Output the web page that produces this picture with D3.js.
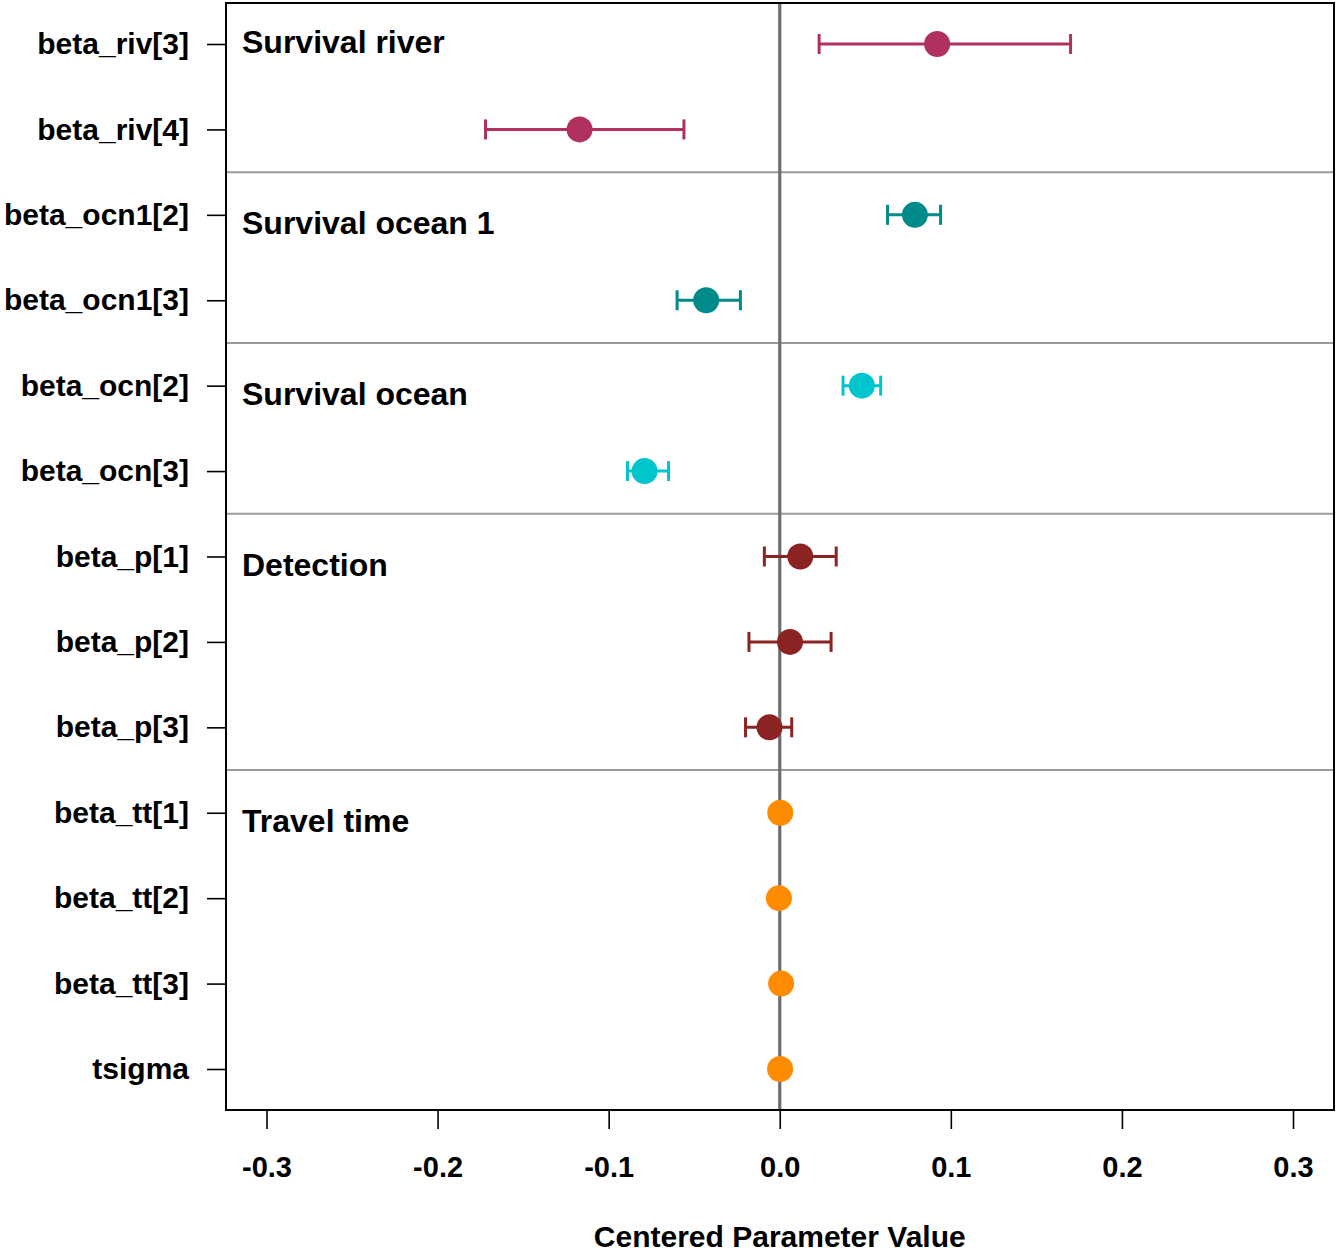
<!DOCTYPE html>
<html>
<head>
    <meta charset="utf-8">
    <title>Centered Parameter Values</title>
    <script src="https://d3js.org/d3.v7.min.js"></script>
    <style>
        body {
            margin: 0;
            background: #fff;
        }

        text {
            font-family: "Liberation Sans", Arial, Helvetica, sans-serif;
            font-weight: bold;
            fill: #000;
        }

        .axis path {
            display: none;
        }

        .axis line {
            stroke: #000;
            stroke-width: 1.6px;
        }
    </style>
</head>
<body>
    <div id="chart"></div>

    <script>
        // parameter names, top to bottom
        const params = ["beta_riv[3]", "beta_riv[4]", "beta_ocn1[2]", "beta_ocn1[3]",
            "beta_ocn[2]", "beta_ocn[3]", "beta_p[1]", "beta_p[2]", "beta_p[3]",
            "beta_tt[1]", "beta_tt[2]", "beta_tt[3]", "tsigma"];
        const estimate = [0.092, -0.117, 0.079, -0.043, 0.048, -0.079, 0.012, 0.006, -0.006,
            0.0003, -0.0005, 0.0008, 0.0002];
        const lower = [0.023, -0.172, 0.063, -0.060, 0.037, -0.089, -0.009, -0.018, -0.020,
            null, null, null, null];
        const upper = [0.170, -0.056, 0.094, -0.023, 0.059, -0.065, 0.033, 0.030, 0.007,
            null, null, null, null];
        const group = [0, 0, 1, 1, 2, 2, 3, 3, 3, 4, 4, 4, 4];

        const groupNames = ["Survival river", "Survival ocean 1", "Survival ocean", "Detection", "Travel time"];
        const groupColors = ["#b03060", "#008b8b", "#00c5cd", "#8b2323", "#ff8c00"];
        const groupLabelRow = [0.97, 3.09, 5.09, 7.09, 10.09];
        const dividers = [2.5, 4.5, 6.5, 9.5];

        const xTicks = [-0.3, -0.2, -0.1, 0.0, 0.1, 0.2, 0.3];

        const data = params.map((p, i) => ({
            name: p,
            row: i + 1,
            est: estimate[i],
            lo: lower[i],
            hi: upper[i],
            group: group[i]
        }));

        const margin = { top: 3, right: 2, bottom: 142, left: 226 },
            width = 1336 - margin.left - margin.right,
            height = 1252 - margin.top - margin.bottom;

        const x = d3.scaleLinear().domain([-0.3, 0.3]).range([40.5, 1067]);
        const y = d3.scaleLinear().domain([0.52, 13.48]).range([0, height]);

        const svg = d3.select("#chart").append("svg")
            .attr("width", width + margin.left + margin.right)
            .attr("height", height + margin.top + margin.bottom)
            .append("g")
            .attr("transform", `translate(${margin.left},${margin.top})`);

        // group dividers
        svg.selectAll(".divider")
            .data(dividers)
            .enter().append("line")
            .attr("class", "divider")
            .attr("x1", 0)
            .attr("x2", width)
            .attr("y1", d => y(d))
            .attr("y2", d => y(d))
            .style("stroke", "#9a9a9a")
            .style("stroke-width", 2);

        // zero line
        svg.append("line")
            .attr("x1", x(0))
            .attr("x2", x(0))
            .attr("y1", 0)
            .attr("y2", height)
            .style("stroke", "#6e6e6e")
            .style("stroke-width", 3.2);

        // group labels
        svg.selectAll(".glabel")
            .data(groupNames)
            .enter().append("text")
            .attr("class", "glabel")
            .attr("x", 16)
            .attr("y", (d, i) => y(groupLabelRow[i]))
            .attr("dy", "0.36em")
            .style("font-size", "32px")
            .text(d => d);

        // error bars
        const withCi = data.filter(d => d.lo !== null);
        const capH = 10;

        svg.selectAll(".ci")
            .data(withCi)
            .enter().append("line")
            .attr("x1", d => x(d.lo))
            .attr("x2", d => x(d.hi))
            .attr("y1", d => y(d.row))
            .attr("y2", d => y(d.row))
            .style("stroke", d => groupColors[d.group])
            .style("stroke-width", 3);

        ["lo", "hi"].forEach(function(k) {
            svg.selectAll(".cap-" + k)
                .data(withCi)
                .enter().append("line")
                .attr("x1", d => x(d[k]))
                .attr("x2", d => x(d[k]))
                .attr("y1", d => y(d.row) - capH)
                .attr("y2", d => y(d.row) + capH)
                .style("stroke", d => groupColors[d.group])
                .style("stroke-width", 3);
        });

        // points
        svg.selectAll(".pt")
            .data(data)
            .enter().append("circle")
            .attr("cx", d => x(d.est))
            .attr("cy", d => y(d.row))
            .attr("r", 13)
            .style("fill", d => groupColors[d.group]);

        // box
        svg.append("rect")
            .attr("width", width)
            .attr("height", height)
            .style("fill", "none")
            .style("stroke", "#000")
            .style("stroke-width", 2);

        // axes
        const xAxis = svg.append("g")
            .attr("class", "axis")
            .attr("transform", `translate(0,${height})`)
            .call(d3.axisBottom(x).tickValues(xTicks)
                .tickFormat(d => d.toFixed(1)).tickSize(19).tickPadding(27));
        xAxis.selectAll("text").style("font-size", "29px");

        const yAxis = svg.append("g")
            .attr("class", "axis")
            .call(d3.axisLeft(y).tickValues(data.map(d => d.row))
                .tickFormat((d, i) => params[i]).tickSize(19).tickPadding(18));
        yAxis.selectAll("text").style("font-size", "30px");

        // axis title
        svg.append("text")
            .attr("x", x(0))
            .attr("y", height + 137)
            .style("text-anchor", "middle")
            .style("font-size", "30px")
            .text("Centered Parameter Value");
    </script>
</body>
</html>
